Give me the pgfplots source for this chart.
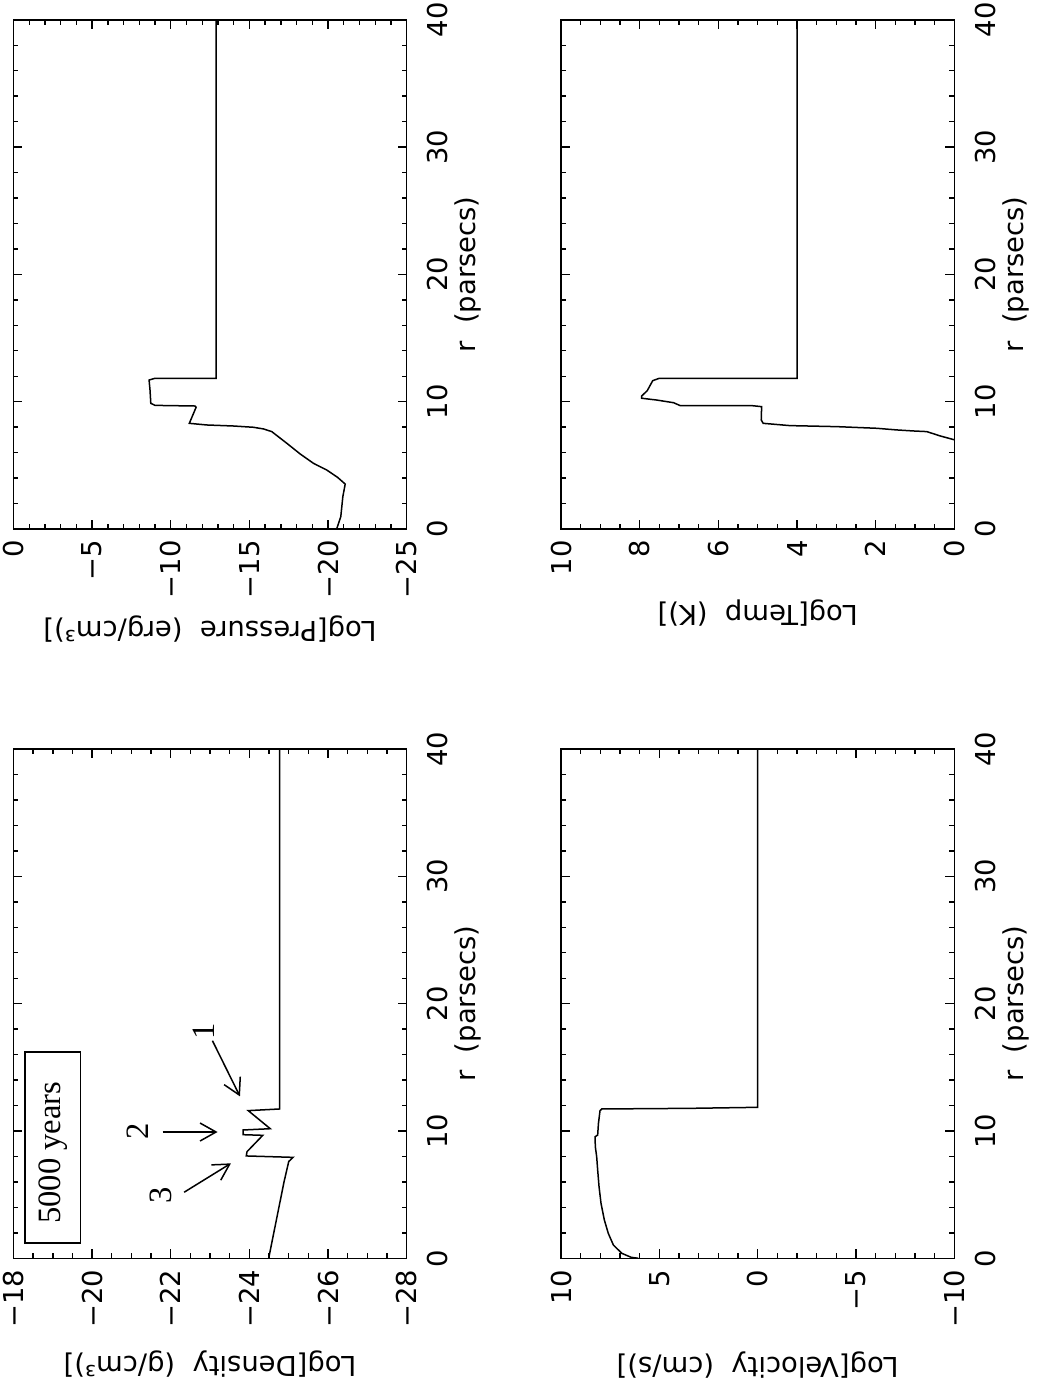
\documentclass[border=0pt]{standalone}
\usepackage{graphicx}
\usepackage{fontspec}
\setmainfont{DejaVu Sans}
\newfontfamily\timesfont{Liberation Serif}
\usepackage{pgfplots}
\pgfplotsset{compat=1.18}
\usetikzlibrary{arrows.meta}

\newcommand\ticfont{\fontsize{13.7}{16}\selectfont}
\newcommand\annfont{\timesfont\fontsize{16.3}{18}\selectfont}

\pgfplotsset{
  panel/.style={
    scale only axis, width=254.6pt, height=196.6pt,
    anchor=south west,
    /pgf/number format/assume math mode=true,
    xmin=0, xmax=40, xtick={0,10,20,30,40}, xticklabels={0,10,20,30,40},
    minor x tick num=4,
    tick align=inside, tick pos=both,
    xticklabel pos=lower, yticklabel pos=left,
    major tick length=4.5pt, minor tick length=2.5pt,
    axis line style={line width=0.8pt},
    every tick/.style={black, line width=0.7pt},
    tick label style={font=\ticfont},
    label style={font=\ticfont},
    xticklabel style={anchor=north, inner sep=0pt, yshift=-10pt},
    yticklabel style={anchor=east, inner sep=0pt, xshift=-5.5pt},
    xlabel={r\ \ (parsecs)},
    xlabel style={at={([yshift=-24pt]rel axis cs:0.5,0)}, anchor=north, inner sep=0pt},
  },
  curve/.style={black, line width=0.75pt, mark=none},
  ylab/.style={ylabel style={at={([xshift=-#1]rel axis cs:0,0.5)}, anchor=south, inner sep=0pt}},
}

\begin{document}
\rotatebox{90}{%
\begin{tikzpicture}
\useasboundingbox (0,0) rectangle (697.5pt,519pt);

% density
\begin{axis}[panel, at={(68.35pt,315.65pt)},
    ymin=-28, ymax=-18, ytick={-28,-26,-24,-22,-20,-18}, minor y tick num=3,
    yticklabels={−28,−26,−24,−22,−20,−18},
    ylabel={Log[Density\ \ (g/cm³)]}, ylab=46pt]
\addplot[curve] coordinates {
  (0,-24.49) (2,-24.62) (4,-24.75) (6,-24.88) (7.6,-25.0) (7.93,-25.11)
  (8.04,-23.92) (8.38,-23.94) (9.66,-24.34) (9.71,-23.84) (10.08,-23.84)
  (10.18,-24.53) (11.6,-23.97) (11.73,-24.77) (40,-24.77)
};
\draw[line width=0.75pt] (axis cs:1.2,-18.29) rectangle (axis cs:16.2,-19.71);
\node[font=\annfont] at (axis cs:8.3,-19.02) {5000 years};
\node[font=\annfont] at (axis cs:17.86,-22.83) {1};
\node[font=\annfont] at (axis cs:10.0,-21.17) {2};
\node[font=\annfont] at (axis cs:4.97,-21.76) {3};
\draw[line width=0.75pt,-{Straight Barb[length=8pt,width=9pt]}]
  (axis cs:17.09,-23.06) -- (axis cs:12.72,-23.76);
\draw[line width=0.75pt,-{Straight Barb[length=8pt,width=9pt]}]
  (axis cs:9.92,-21.79) -- (axis cs:9.92,-23.19);
\draw[line width=0.75pt,-{Straight Barb[length=8pt,width=9pt]}]
  (axis cs:5.19,-22.34) -- (axis cs:7.46,-23.53);
\end{axis}

% pressure
\begin{axis}[panel, at={(433pt,315.65pt)},
    ymin=-25, ymax=0, ytick={-25,-20,-15,-10,-5,0}, minor y tick num=4,
    yticklabels={−25,−20,−15,−10,−5,0},
    ylabel={Log[Pressure\ \ (erg/cm³)]}, ylab=43pt]
\addplot[curve] coordinates {
  (0,-20.55) (0.97,-20.81) (2.54,-20.94) (3.53,-21.09) (4.06,-20.6)
  (4.63,-19.92) (5.16,-19.07) (5.89,-18.23) (6.73,-17.38) (7.65,-16.42)
  (7.86,-15.89) (7.99,-15.25) (8.09,-13.98) (8.17,-12.29) (8.3,-11.18)
  (9.56,-11.61) (9.66,-11.55) (9.71,-9.0) (9.87,-8.73) (10.92,-8.68)
  (11.7,-8.62) (11.84,-9.0) (11.84,-12.88) (40,-12.88)
};
\end{axis}

% velocity
\begin{axis}[panel, at={(68.35pt,41.85pt)},
    ymin=-10, ymax=10, ytick={-10,-5,0,5,10}, minor y tick num=4,
    yticklabels={−10,−5,0,5,10},
    ylabel={Log[Velocity\ \ (cm/s)]}, ylab=46.5pt]
\addplot[curve] coordinates {
  (0,6.07) (0.08,6.44) (0.39,6.91) (1.04,7.34) (1.96,7.6) (3.01,7.8)
  (4.32,7.97) (5.63,8.07) (6.94,8.14) (7.98,8.19) (8.77,8.26) (9.55,8.27)
  (9.68,8.14) (10.6,8.1) (11.6,8.02) (11.73,7.93) (11.78,3.44) (11.86,0)
  (40,0)
};
\end{axis}

% temperature
\begin{axis}[panel, at={(433pt,41.85pt)},
    ymin=0, ymax=10, ytick={0,2,4,6,8,10}, minor y tick num=3,
    yticklabels={0,2,4,6,8,10},
    ylabel={Log[Temp\ \ (K)]}, ylab=35pt]
\addplot[curve] coordinates {
  (6.99,-0.02) (7.31,0.36) (7.65,0.70) (7.70,1.04) (7.78,1.46) (7.91,1.97)
  (8.04,2.99) (8.12,4.18) (8.30,4.86) (8.56,4.91) (9.61,4.90) (9.69,5.15)
  (9.69,6.97) (9.92,7.14) (10.13,7.57) (10.27,7.95) (10.45,7.95)
  (10.86,7.81) (11.65,7.67) (11.84,7.50) (11.84,4.0) (40,4.0)
};
\end{axis}
\end{tikzpicture}}
\end{document}
